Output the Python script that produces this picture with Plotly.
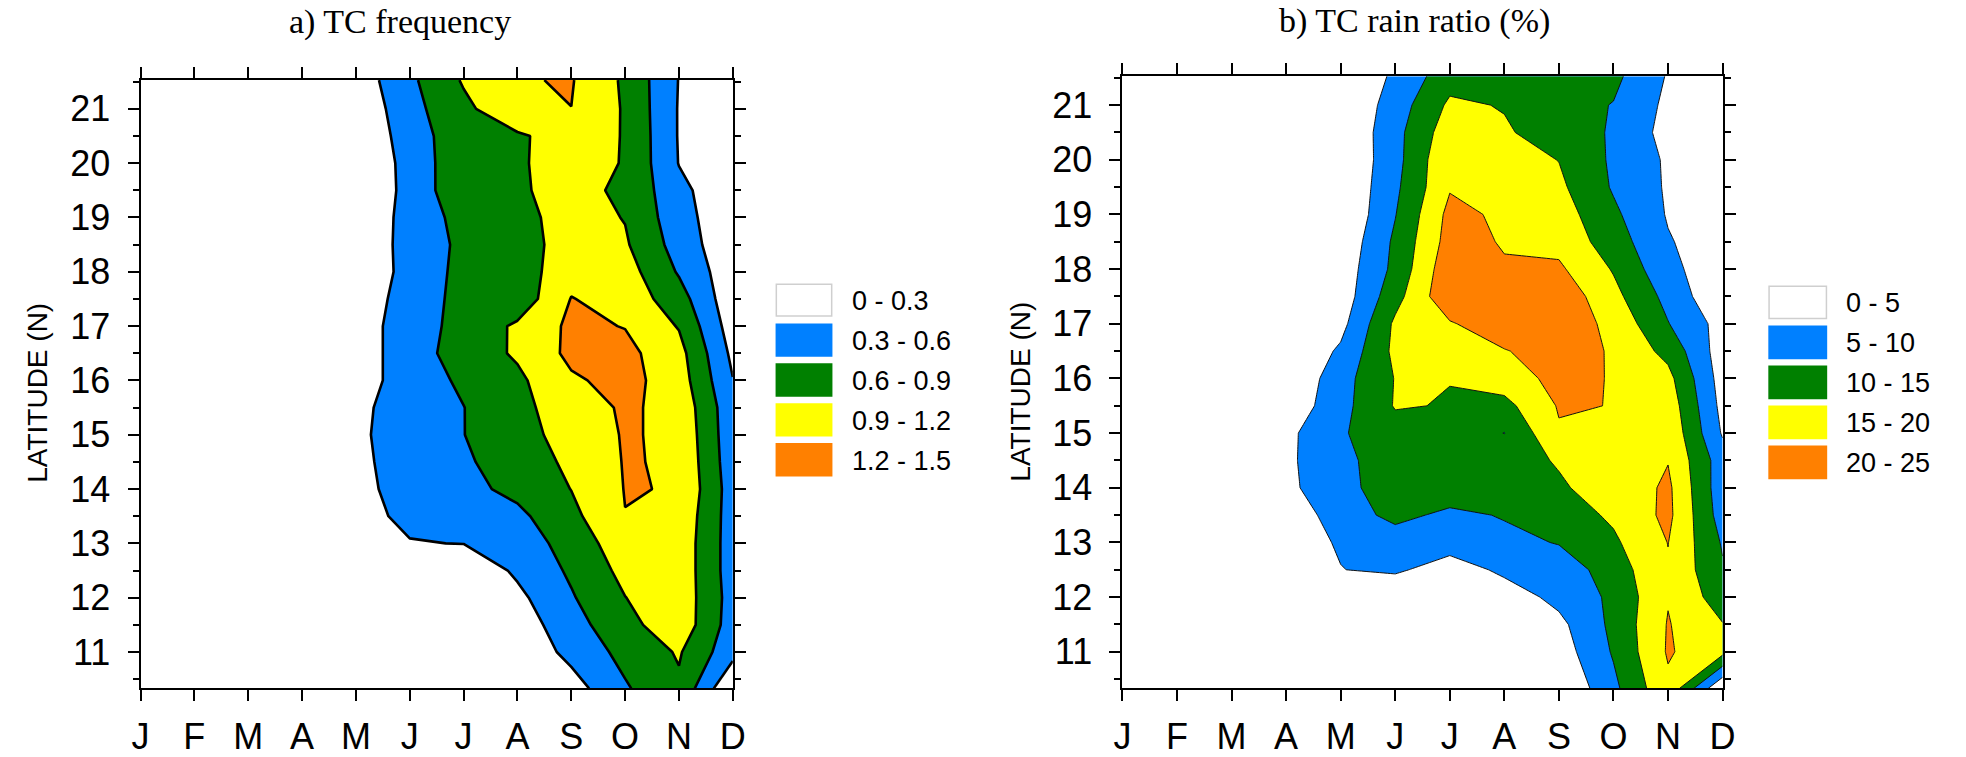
import plotly.graph_objects as go

# ---------------- data ----------------
months = ["J", "F", "M", "A", "M", "J", "J", "A", "S", "O", "N", "D"]
month_pos = list(range(12))
lats = [10.33, 11.0, 11.5, 12.0, 12.5, 13.0, 13.5, 14.0, 14.5, 15.0, 15.5, 16.0,
        16.5, 17.0, 17.5, 18.0, 18.5, 19.0, 19.5, 20.0, 20.5, 21.0, 21.53]

# a) TC frequency (rows follow lats, columns follow months)
tc_freq = [
    [0, 0, 0, 0, 0, 0, 0, 0, 0.168, 0.568, 0.85, 0],
    [0, 0, 0, 0, 0, 0, 0, 0.052, 0.392, 0.688, 0.93, 0.4],
    [0, 0, 0, 0, 0, 0, 0, 0.129, 0.486, 0.80, 1.10, 0.455],
    [0, 0, 0, 0, 0, 0, 0, 0.228, 0.572, 0.895, 1.10, 0.475],
    [0, 0, 0, 0, 0, 0.02, 0.063, 0.352, 0.647, 0.984, 1.10, 0.45],
    [0, 0, 0, 0, 0.2, 0.29, 0.305, 0.41, 0.737, 1.06, 1.10, 0.45],
    [0, 0, 0, 0, 0.233, 0.344, 0.44, 0.53, 0.823, 1.195, 1.13, 0.45],
    [0, 0, 0, 0, 0.243, 0.378, 0.513, 0.679, 0.905, 1.21, 1.19, 0.45],
    [0, 0, 0, 0, 0.247, 0.402, 0.557, 0.749, 0.956, 1.218, 1.17, 0.42],
    [0, 0, 0, 0, 0.252, 0.424, 0.595, 0.80, 1.005, 1.225, 1.15, 0.40],
    [0, 0, 0, 0, 0.242, 0.418, 0.595, 0.822, 1.05, 1.24, 1.12, 0.39],
    [0, 0, 0, 0, 0.164, 0.436, 0.652, 0.84, 1.159, 1.295, 1.05, 0.31],
    [0, 0, 0, 0, 0.14, 0.46, 0.735, 0.94, 1.27, 1.28, 1.005, 0.23],
    [0, 0, 0, 0, 0.146, 0.454, 0.70, 0.947, 1.26, 1.19, 0.88, 0.15],
    [0, 0, 0, 0, 0.133, 0.416, 0.70, 0.71, 1.21, 1.09, 0.73, 0.095],
    [0, 0, 0, 0, 0.09, 0.39, 0.69, 0.736, 1.10, 1.03, 0.57, 0.10],
    [0, 0, 0, 0, 0.107, 0.39, 0.67, 0.80, 1.00, 0.937, 0.475, 0.07],
    [0, 0, 0, 0, 0.08, 0.395, 0.71, 0.80, 1.03, 0.887, 0.417, 0.08],
    [0, 0, 0, 0, 0, 0.40, 0.82, 0.87, 0.985, 0.85, 0.385, 0.05],
    [0, 0, 0, 0, 0, 0.41, 0.81, 0.87, 1.01, 0.885, 0.29, 0.10],
    [0, 0, 0, 0, 0.06, 0.43, 0.81, 0.86, 1.03, 0.886, 0.28, 0.10],
    [0, 0, 0, 0, 0.05, 0.50, 0.83, 1.13, 1.198, 0.87, 0.28, 0.10],
    [0, 0, 0, 0, 0.12, 0.54, 0.93, 1.18, 1.22, 0.85, 0.29, 0.10],
]

# b) TC rain ratio (%)
tc_rain = [
    [0, 0, 0, 0, 0, 0, 0, 0, 0, 8.8, 19.0, 0],
    [0, 0, 0, 0, 0, 0, 0, 1.0, 2.4, 10.5, 20.5, 16.5],
    [0, 0, 0, 0, 0, 0, 0, 1.5, 3.7, 11.2, 20.3, 15.2],
    [0, 0, 0, 0, 0, 0, 1.0, 2.3, 6.45, 11.0, 19.7, 12.4],
    [0, 0, 0, 0, 4.9, 5.9, 2.3, 6.1, 7.0, 12.5, 19.5, 10.5],
    [0, 0, 0, 3.0, 5.4, 7.0, 7.5, 8.5, 10.3, 14.2, 20.1, 9.5],
    [0, 0, 0, 2.3, 7.0, 11.6, 8.7, 10.4, 12.5, 15.8, 21.2, 7.7],
    [0, 0, 0, 3.9, 8.2, 13.0, 13.5, 14.0, 14.7, 16.1, 21.0, 7.0],
    [0, 0, 0, 4.0, 8.8, 12.5, 13.0, 14.0, 15.2, 17.0, 19.8, 7.3],
    [0, 0, 0, 3.7, 9.5, 13.0, 13.5, 9.9, 19.5, 18.5, 19.0, 4.5],
    [0, 0, 0, 1.3, 8.4, 15.35, 14.75, 13.5, 20.4, 19.9, 18.0, 3.5],
    [0, 0, 0, 0, 8.1, 15.2, 15.1, 17.5, 21.5, 19.7, 16.5, 2.8],
    [0, 0, 0, 0, 5.8, 16.2, 18.0, 19.7, 22.4, 19.5, 13.5, 2.4],
    [0, 0, 0, 0, 3.4, 15.9, 19.5, 23.3, 23.0, 18.7, 10.2, 3.1],
    [0, 0, 0, 0, 2.1, 13.2, 24.0, 23.0, 23.4, 16.45, 8.5, 0.7],
    [0, 0, 0, 0, 2.0, 11.3, 23.5, 20.5, 20.8, 14.6, 6.4, 1.6],
    [0, 0, 0, 0, 1.1, 10.9, 22.0, 19.6, 18.5, 12.45, 5.4, 2.0],
    [0, 0, 0, 0, 0, 9.8, 21.4, 19.1, 17.4, 10.95, 4.6, 1.5],
    [0, 0, 0, 0, 0, 9.0, 19.6, 18.0, 16.0, 9.5, 4.4, 1.5],
    [0, 0, 0, 0, 0, 8.3, 19.5, 17.0, 14.9, 9.2, 4.3, 1.5],
    [0, 0, 0, 0, 0, 8.4, 17.8, 15.6, 12.6, 9.5, 3.2, 1.0],
    [0, 0, 0, 0, 0, 7.4, 15.9, 14.7, 12.0, 9.8, 3.9, 1.5],
    [0, 0, 0, 0, 0, 5.9, 13.0, 13.5, 12.5, 11.2, 4.6, 2.0],
]

freq_levels = [0, 0.3, 0.6, 0.9, 1.2, 1.5]
rain_levels = [0, 5, 10, 15, 20, 25]
band_colors = ["#FFFFFF", "#0080FF", "#008000", "#FFFF00", "#FF8000"]

# ---------------- figure ----------------
W, H = 1966, 757


def fx(x):
    return x / W


def fy(y):
    return 1 - y / H


def step_scale(colors):
    n = len(colors)
    scl = []
    for i, c in enumerate(colors):
        a = 0 if i == 0 else (i - 0.5) / (n - 1)
        b = 1 if i == n - 1 else (i + 0.5) / (n - 1)
        scl.append([a, c])
        scl.append([b, c])
    return scl


cscale = step_scale(band_colors)

fig = go.Figure()
fig.add_trace(go.Contour(
    x=month_pos, y=lats, z=tc_freq,
    autocontour=False,
    contours=dict(start=freq_levels[1], end=freq_levels[-2],
                  size=freq_levels[1] - freq_levels[0],
                  coloring="fill", showlines=True),
    line=dict(color="black", width=2.6, smoothing=0),
    colorscale=cscale, showscale=False, hoverinfo="skip",
    xaxis="x", yaxis="y",
))
fig.add_trace(go.Contour(
    x=month_pos, y=lats, z=tc_rain,
    autocontour=False,
    contours=dict(start=rain_levels[1], end=rain_levels[-2],
                  size=rain_levels[1] - rain_levels[0],
                  coloring="fill", showlines=True),
    line=dict(color="#111111", width=1, smoothing=0),
    colorscale=cscale, showscale=False, hoverinfo="skip",
    xaxis="x2", yaxis="y2",
))

tickfont = dict(family="Liberation Sans, Arial, sans-serif", size=36, color="black")


def xaxis_cfg(domain, anchor):
    return dict(domain=domain, anchor=anchor, range=[0, 11],
                tickmode="array", tickvals=month_pos, ticktext=months,
                ticks="outside", ticklen=11, tickwidth=2, tickcolor="black",
                showline=True, linewidth=2, linecolor="black", mirror="allticks",
                showgrid=False, zeroline=False, tickfont=tickfont,
                ticklabelstandoff=4, fixedrange=True)


def yaxis_cfg(domain, anchor):
    return dict(domain=domain, anchor=anchor, range=[10.33, 21.53],
                tickmode="linear", tick0=11, dtick=1,
                ticks="outside", ticklen=11, tickwidth=2, tickcolor="black",
                minor=dict(dtick=0.5, ticks="outside", ticklen=6, tickwidth=2,
                           tickcolor="black", showgrid=False),
                showline=True, linewidth=2, linecolor="black", mirror="allticks",
                showgrid=False, zeroline=False, tickfont=tickfont,
                ticklabelstandoff=10, fixedrange=True)


shapes = []
annotations = []


def add_legend(levels, x0, x1, top0, pitch, hgt, label_x, fsize):
    for i, c in enumerate(band_colors):
        t = top0 + i * pitch
        shapes.append(dict(type="rect", xref="paper", yref="paper",
                           x0=fx(x0), x1=fx(x1), y0=fy(t + hgt), y1=fy(t),
                           fillcolor=c,
                           line=dict(color="#CFCFCF" if i == 0 else c, width=1.5)))
        lo, hi = levels[i], levels[i + 1]
        annotations.append(dict(x=fx(label_x), y=fy(t + hgt / 2 + 1), xref="paper",
                                yref="paper", xanchor="left", yanchor="middle",
                                text=f"{lo:g} - {hi:g}", showarrow=False,
                                font=dict(family="Liberation Sans, Arial, sans-serif",
                                          size=fsize, color="black")))


add_legend(freq_levels, 776, 832, 290, 40.7, 32.5, 851, 27)
add_legend(rain_levels, 1780, 1838, 292, 40.8, 33, 1856, 27)

titlefont = dict(family="Liberation Serif, Times New Roman, serif", size=34, color="black")
annotations.append(dict(x=fx(395), y=fy(22), xref="paper", yref="paper",
                        xanchor="center", yanchor="middle", text="a) TC frequency",
                        showarrow=False, font=titlefont))
annotations.append(dict(x=fx(1421), y=fy(21), xref="paper", yref="paper",
                        xanchor="center", yanchor="middle", text="b) TC rain ratio (%)",
                        showarrow=False, font=titlefont))

ytitlefont = dict(family="Liberation Sans, Arial, sans-serif", size=28, color="black")
annotations.append(dict(x=fx(28), y=fy(401), xref="paper", yref="paper",
                        xanchor="center", yanchor="middle", text="LATITUDE (N)",
                        textangle=-90, showarrow=False, font=ytitlefont))
annotations.append(dict(x=fx(1023), y=fy(400), xref="paper", yref="paper",
                        xanchor="center", yanchor="middle", text="LATITUDE (N)",
                        textangle=-90, showarrow=False, font=ytitlefont))

fig.update_layout(
    width=W, height=H,
    margin=dict(l=0, r=0, t=0, b=0),
    paper_bgcolor="white", plot_bgcolor="white",
    showlegend=False,
    xaxis=xaxis_cfg([fx(133), fx(732)], "y"),
    yaxis=yaxis_cfg([1 - 702.3 / H, 1 - 81.7 / H], "x"),
    xaxis2=xaxis_cfg([fx(1126), fx(1733)], "y2"),
    yaxis2=yaxis_cfg([1 - 702.3 / H, 1 - 77.7 / H], "x2"),
    shapes=shapes,
    annotations=annotations,
)

fig.write_html("out.html")
